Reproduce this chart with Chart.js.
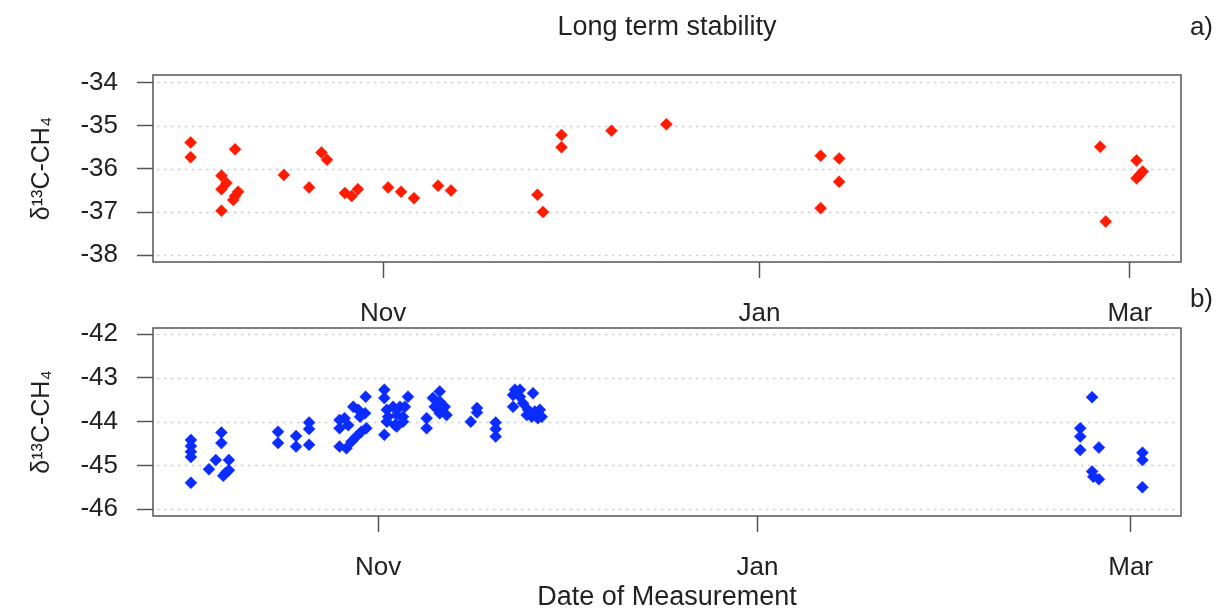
<!DOCTYPE html>
<html>
<head>
<meta charset="utf-8">
<script src="https://cdn.jsdelivr.net/npm/chart.js@4.4.1/dist/chart.umd.min.js"></script>
<style>
    html, body { margin: 0; padding: 0; background: #fff; overflow: hidden; }
    #page { position: relative; width: 1216px; height: 610px; }
    .panel { position: absolute; left: 0; width: 1216px; }
    #panelA { top: 0; height: 330px; }
    #panelB { top: 280px; height: 340px; }
</style>
</head>
<body>
<div id="page">
    <div class="panel" id="panelA"><canvas id="chartA"></canvas></div>
    <div class="panel" id="panelB"><canvas id="chartB"></canvas></div>
</div>
<script>
// x values are days counted from 1 Nov (Jan 1 = 61, Mar 1 = 121, leap February)
const monthTicks = [0, 61, 121];
const monthLabels = ['Nov', 'Jan', 'Mar'];

const topYTicks = [-38, -37, -36, -35, -34];
const bottomYTicks = [-46, -45, -44, -43, -42];

// a) upper panel
const topDays = [
    -31.2, -31.2, -24.0, -26.2, -25.4, -26.2, -23.5, -24.0, -24.3, -26.2,
    -16.1, -12.0, -10.0, -9.1, -6.2, -5.1, -4.1, 0.8, 2.9, 5.0,
    8.9, 11.0, 25.0, 25.9, 28.9, 28.9, 37.0, 45.9, 70.9, 73.9,
    73.9, 70.9, 116.2, 117.1, 122.1, 123.1, 122.6, 122.1
];
const topDelta = [
    -35.39, -35.73, -35.55, -36.16, -36.33, -36.47, -36.53, -36.63, -36.72, -36.97,
    -36.14, -36.43, -35.62, -35.79, -36.56, -36.63, -36.47, -36.43, -36.53, -36.68,
    -36.39, -36.50, -36.60, -37.00, -35.22, -35.50, -35.12, -34.97, -35.70, -35.76,
    -36.30, -36.91, -35.49, -37.22, -35.81, -36.06, -36.14, -36.22
];

// b) lower panel
const bottomDays = [
    -30.1, -30.1, -30.1, -30.1, -30.1, -27.2, -26.1, -25.2, -25.2, -24.0,
    -24.0, -24.9, -24.5, -16.1, -16.1, -13.2, -13.2, -11.1, -11.1, -11.1,
    -6.2, -6.2, -6.2, -5.4, -4.8, -5.1, -4.0, -3.2, -2.9, -2.1,
    -1.9, -2.7, -3.5, -4.3, -2.0,
    1.0, 1.0, 1.0, 4.8, 1.4, 2.4, 3.5, 4.3, 1.6, 3.0,
    4.0, 1.4, 2.7, 4.0, 3.0,
    9.9, 8.8, 9.9, 9.1, 10.7, 11.0, 9.9, 7.8, 7.8,
    15.9, 15.9, 14.9, 18.9, 18.9, 18.9,
    22.0, 22.8, 21.7, 22.8, 24.9, 21.7, 23.3, 24.1, 25.2, 26.0,
    23.9, 24.7, 25.7, 26.3,
    114.8, 112.9, 112.9, 112.9, 115.9, 114.8, 115.0, 115.9, 122.9, 122.9,
    122.9
];
const bottomDelta = [
    -44.42, -44.56, -44.69, -44.81, -45.40, -45.09, -44.88, -44.25, -44.49, -44.88,
    -45.11, -45.24, -45.17, -44.23, -44.49, -44.33, -44.57, -44.02, -44.17, -44.53,
    -43.96, -44.15, -44.57, -43.92, -44.08, -44.61, -43.66, -43.73, -43.89, -43.81,
    -44.15, -44.23, -44.34, -44.46, -43.43,
    -43.27, -43.46, -44.30, -43.43, -43.73, -43.66, -43.66, -43.66, -43.89, -43.85,
    -43.89, -44.00, -44.08, -44.00, -44.11,
    -43.31, -43.46, -43.54, -43.66, -43.66, -43.85, -43.81, -43.92, -44.15,
    -43.69, -43.79, -44.00, -44.02, -44.17, -44.34,
    -43.27, -43.27, -43.39, -43.43, -43.35, -43.66, -43.58, -43.73, -43.77, -43.73,
    -43.85, -43.89, -43.92, -43.89,
    -43.44, -44.15, -44.34, -44.65, -44.59, -45.14, -45.26, -45.32, -44.71, -44.88,
    -45.50
];

Chart.defaults.font.family = '"Liberation Sans", Arial, sans-serif';
Chart.defaults.color = '#222';

// dotted grid, frame box and the a)/b) tag
const framePlugin = {
    id: 'frame',
    beforeDatasetsDraw(chart) {
        const { ctx, chartArea: a, scales: { y } } = chart;
        ctx.save();
        ctx.strokeStyle = '#cfcfcf';
        ctx.lineWidth = 1.5;
        ctx.setLineDash([2.5, 4.5]);
        y.ticks.forEach(t => {
            const py = Math.round(y.getPixelForValue(t.value)) + 0.5;
            ctx.beginPath();
            ctx.moveTo(a.left + 4, py);
            ctx.lineTo(a.right - 2, py);
            ctx.stroke();
        });
        ctx.restore();
    },
    afterDraw(chart, args, opts) {
        const { ctx, chartArea: a } = chart;
        ctx.save();
        ctx.strokeStyle = '#555';
        ctx.lineWidth = 1.5;
        ctx.strokeRect(a.left, a.top, a.right - a.left, a.bottom - a.top);
        if (opts.tag) {
            ctx.fillStyle = '#222';
            ctx.font = '26px "Liberation Sans", Arial, sans-serif';
            ctx.textAlign = 'right';
            ctx.textBaseline = 'middle';
            ctx.fillText(opts.tag, 1213, opts.tagY);
        }
        ctx.restore();
    }
};

function makeScales(xMin, xMax, yMin, yMax, yTicks, xHeight, xTitle) {
    return {
        x: {
            type: 'linear',
            min: xMin,
            max: xMax,
            afterBuildTicks: s => { s.ticks = monthTicks.map(v => ({ value: v })); },
            afterFit: s => { s.height = xHeight; },
            ticks: {
                autoSkip: false,
                maxRotation: 0,
                padding: 20,
                font: { size: 26 },
                callback: v => monthLabels[monthTicks.indexOf(v)]
            },
            grid: { drawOnChartArea: false, tickLength: 16, tickColor: '#555', tickWidth: 1.5 },
            border: { display: false },
            title: xTitle ? {
                display: true,
                text: xTitle,
                font: { size: 27 },
                padding: { top: 0, bottom: 6 }
            } : { display: false }
        },
        y: {
            min: yMin,
            max: yMax,
            afterBuildTicks: s => { s.ticks = yTicks.map(v => ({ value: v })); },
            afterFit: s => { s.width = 153; },
            ticks: { padding: 19, font: { size: 26 } },
            grid: { drawOnChartArea: false, tickLength: 16, tickColor: '#555', tickWidth: 1.5 },
            border: { display: false },
            title: {
                display: true,
                text: 'δ¹³C-CH₄',
                font: { size: 25 },
                padding: { top: 27, bottom: 0 }
            }
        }
    };
}

function makePoints(days, vals) {
    return days.map((d, i) => ({ x: d, y: vals[i] }));
}

const commonOpts = {
    responsive: true,
    maintainAspectRatio: false,
    animation: false,
    events: []
};

new Chart(document.getElementById('chartA'), {
    type: 'scatter',
    data: {
        datasets: [{
            data: makePoints(topDays, topDelta),
            pointStyle: 'rectRot',
            pointRadius: 6,
            borderWidth: 0.5,
            backgroundColor: '#ff1a00',
            borderColor: '#ff1a00'
        }]
    },
    options: {
        ...commonOpts,
        layout: { padding: { top: 0, right: 35, bottom: 0, left: 0 } },
        plugins: {
            legend: { display: false },
            tooltip: { enabled: false },
            title: {
                display: true,
                text: 'Long term stability',
                fullSize: false,
                font: { size: 27, weight: 'normal' },
                color: '#222',
                padding: { top: 11.4, bottom: 31.2 }
            },
            frame: { tag: 'a)', tagY: 28 }
        },
        scales: makeScales(-37.3, 129.3, -38.155, -33.83, topYTicks, 68, null)
    },
    plugins: [framePlugin]
});

new Chart(document.getElementById('chartB'), {
    type: 'scatter',
    data: {
        datasets: [{
            data: makePoints(bottomDays, bottomDelta),
            pointStyle: 'rectRot',
            pointRadius: 6,
            borderWidth: 0.5,
            backgroundColor: '#0a2cff',
            borderColor: '#0a2cff'
        }]
    },
    options: {
        ...commonOpts,
        layout: { padding: { top: 48, right: 35, bottom: 0, left: 0 } },
        plugins: {
            legend: { display: false },
            tooltip: { enabled: false },
            frame: { tag: 'b)', tagY: 20 }
        },
        scales: makeScales(-36.2, 129.1, -46.16, -41.856, bottomYTicks, 104, 'Date of Measurement')
    },
    plugins: [framePlugin]
});
</script>
</body>
</html>
